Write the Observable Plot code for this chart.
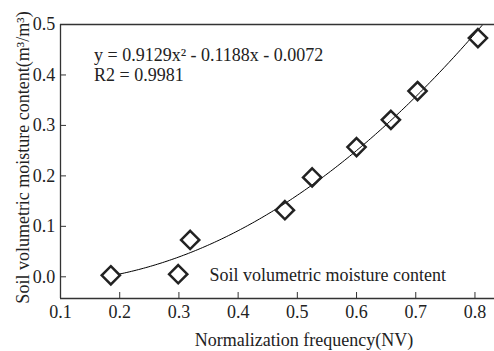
<!DOCTYPE html>
<html>
<head>
<meta charset="utf-8">
<script src="https://cdn.jsdelivr.net/npm/d3@7"></script>
<script src="https://cdn.jsdelivr.net/npm/@observablehq/plot@0.6"></script>
<style>
  html, body { margin: 0; padding: 0; background: #fff; overflow: hidden; }
  #chart svg, #chart svg text { font-family: "Liberation Serif", "Times New Roman", serif !important; }
</style>
</head>
<body>
<div id="chart"></div>
<script>
// Measured points
const nvFrequency = [0.185, 0.319, 0.479, 0.525, 0.600, 0.658, 0.703, 0.805];
const moisture    = [0.003, 0.073, 0.132, 0.197, 0.257, 0.311, 0.368, 0.473];

// Fitted quadratic shown on the chart: y = a x^2 + b x + c
const fitCoefficients = [0.9129, -0.1188, -0.0072];
const fitRange = [0.2, 0.82];
const fitLabel = "y = 0.9129x² - 0.1188x - 0.0072\nR2 = 0.9981";

const xTicks = [0.1, 0.2, 0.3, 0.4, 0.5, 0.6, 0.7, 0.8];
const yTicks = [0.0, 0.1, 0.2, 0.3, 0.4, 0.5];
const xDomain = [0.1, 0.833];
const yDomain = [-0.043, 0.5];

const xTitle = "Normalization frequency(NV)";
const yTitle = "Soil volumetric moisture content(m³/m³)";
const legendLabel = ["Soil volumetric moisture content"];

const points = nvFrequency.map((x, i) => ({x, y: moisture[i]}));
const [a, b, c] = fitCoefficients;
const curve = d3.range(fitRange[0], fitRange[1] + 1e-9, 0.004)
  .map(x => ({x, y: a * x * x + b * x + c}));

const font = "Liberation Serif";
const axisColor = "#333";
const markColor = "#222";

const chart = Plot.plot({
  width: 494,
  height: 351,
  marginLeft: 60,
  marginRight: 0,
  marginTop: 24,
  marginBottom: 53,
  style: {fontFamily: font, fontSize: "18px", color: "#222", background: "#fff"},
  x: {domain: xDomain},
  y: {domain: yDomain},
  marks: [
    Plot.line(curve, {x: "x", y: "y", stroke: "#000", strokeWidth: 1, clip: true}),
    Plot.dot(points, {x: "x", y: "y", symbol: "diamond2", r: 8.2, stroke: markColor, strokeWidth: 2.5, fill: "none"}),
    Plot.ruleX([xDomain[0]], {stroke: axisColor, strokeWidth: 1.3}),
    Plot.ruleY([yDomain[0]], {stroke: axisColor, strokeWidth: 1.3}),
    Plot.ruleY([yDomain[1]], {stroke: axisColor, strokeWidth: 1.3}),
    Plot.axisX({ticks: xTicks, tickFormat: ".1f", tickSize: -6, tickPadding: 13, label: null, stroke: axisColor, fill: "#222", fontSize: 18, fontFamily: font}),
    Plot.axisY({ticks: yTicks, tickFormat: ".1f", tickSize: -6, tickPadding: 11.3, label: null, stroke: axisColor, fill: "#222", fontSize: 18, fontFamily: font}),
    Plot.text([fitLabel], {frameAnchor: "top-left", dx: 33.5, dy: 56, textAnchor: "start", lineAnchor: "bottom", lineHeight: 1.11, fontSize: 18, fontFamily: font, fill: "#222"}),
    Plot.dot(legendLabel, {frameAnchor: "bottom-left", dx: 117.7, dy: -24.3, symbol: "diamond2", r: 8.2, stroke: markColor, strokeWidth: 2.5, fill: "none"}),
    Plot.text(legendLabel, {frameAnchor: "bottom-left", dx: 149, dy: -18, textAnchor: "start", lineAnchor: "bottom", fontSize: 18, fontFamily: font, fill: "#222"}),
    Plot.text([xTitle], {frameAnchor: "bottom", dx: 26.5, dy: 47, textAnchor: "middle", lineAnchor: "bottom", fontSize: 18, fontFamily: font, fill: "#222"}),
    Plot.text([yTitle], {frameAnchor: "left", rotate: -90, dx: -32, dy: -4, textAnchor: "middle", lineAnchor: "bottom", fontSize: 18, fontFamily: font, fill: "#222"})
  ]
});
document.getElementById("chart").appendChild(chart);
</script>
</body>
</html>
